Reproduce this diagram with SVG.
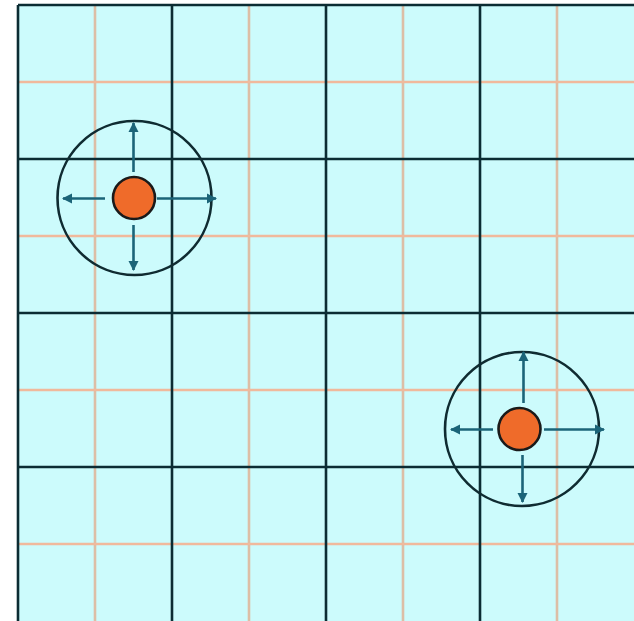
<svg xmlns="http://www.w3.org/2000/svg" width="634" height="621" viewBox="0 0 634 621">
<style>
.major{stroke:#0b2c33;stroke-width:2.6;fill:none}
.minorh{stroke:#f0b99c;stroke-width:2.6;fill:none}
.minorv{stroke:#dcbea6;stroke-width:2.6;fill:none}
.ring{fill:none;stroke:#0f2b31;stroke-width:2.6}
.dot{fill:#ef6b2a;stroke:#1a1a1a;stroke-width:2.6}
.arr{stroke:#1b6478;stroke-width:2.6;fill:none;marker-end:url(#ah)}
</style>
<defs>
<marker id="ah" viewBox="0 0 10 10" refX="9" refY="5" markerWidth="4" markerHeight="4" markerUnits="strokeWidth" orient="auto">
<path d="M0,0 L10,5 L0,10 z" fill="#1b6478"/>
</marker>
</defs>
<rect width="634" height="621" fill="#ffffff"/>
<g id="grid">
<rect x="18" y="5" width="616" height="616" fill="#ccfbfc"/>
<path class="minorv" d="M95,5V621M249,5V621M403,5V621M557,5V621"/>
<path class="minorh" d="M18,82H634M18,236H634M18,390H634M18,544H634"/>
<path class="major" d="M18,5V621M172,5V621M326,5V621M480,5V621M18,5H634M18,159H634M18,313H634M18,467H634"/>
</g>
<g id="source1">
<circle class="ring" cx="134.5" cy="198" r="77"/>
<circle class="dot" cx="134" cy="198" r="21"/>
</g>
<g id="source2">
<circle class="ring" cx="522" cy="429" r="77"/>
<circle class="dot" cx="519.5" cy="429" r="21"/>
</g>
<g id="connectors">
<path class="arr" d="M133.5,172V123"/>
<path class="arr" d="M105,198.5H63"/>
<path class="arr" d="M157,198.5H216"/>
<path class="arr" d="M133.5,225V270"/>
<path class="arr" d="M523.5,403V352"/>
<path class="arr" d="M493,429.5H451"/>
<path class="arr" d="M544,429.5H604"/>
<path class="arr" d="M522.5,455V502"/>
</g>
</svg>
